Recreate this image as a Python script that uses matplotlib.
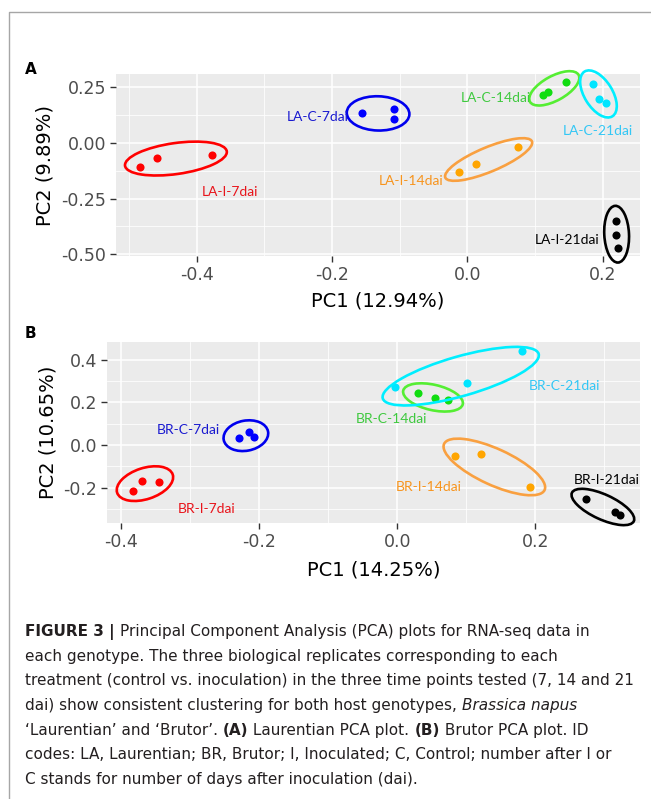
import numpy as np
import matplotlib
matplotlib.use('Agg')
import matplotlib.pyplot as plt
from matplotlib.patches import Ellipse
from matplotlib.transforms import IdentityTransform
from matplotlib.lines import Line2D

# ---- data ----
la_groups = ['LA-I-7dai', 'LA-C-7dai', 'LA-C-14dai', 'LA-C-21dai', 'LA-I-14dai', 'LA-I-21dai']
la_pc1 = [[-0.483, -0.459, -0.377], [-0.156, -0.108, -0.108], [0.112, 0.119, 0.145],
          [0.186, 0.195, 0.205], [-0.012, 0.013, 0.075], [0.220, 0.220, 0.222]]
la_pc2 = [[-0.109, -0.067, -0.054], [0.134, 0.153, 0.107], [0.216, 0.230, 0.272],
          [0.265, 0.196, 0.181], [-0.131, -0.097, -0.020], [-0.350, -0.414, -0.470]]

br_groups = ['BR-I-7dai', 'BR-C-7dai', 'BR-C-14dai', 'BR-C-21dai', 'BR-I-14dai', 'BR-I-21dai']
br_pc1 = [[-0.384, -0.370, -0.345], [-0.230, -0.215, -0.208], [0.030, 0.054, 0.074],
          [-0.003, 0.101, 0.181], [0.084, 0.122, 0.192], [0.273, 0.316, 0.323]]
br_pc2 = [[-0.218, -0.168, -0.174], [0.031, 0.061, 0.036], [0.242, 0.218, 0.210],
          [0.270, 0.293, 0.443], [-0.050, -0.044, -0.195], [-0.254, -0.315, -0.330]]

xtick_vals = [-0.4, -0.2, 0.0, 0.2]
xtick_labels = ['-0.4', '-0.2', '0.0', '0.2']
la_ytick_vals = [0.25, 0.0, -0.25, -0.5]
la_ytick_labels = ['0.25', '0.00', '-0.25', '-0.50']
br_ytick_vals = [0.4, 0.2, 0.0, -0.2]
br_ytick_labels = ['0.4', '0.2', '0.0', '-0.2']

# ---- styles ----
point_cols = ['#ff0000', '#0000ff', '#11dd11', '#00e5ff', '#ffa500', '#000000']
ring_cols = ['#ff0000', '#0000ee', '#55ee33', '#00eeff', '#f9a040', '#000000']
text_cols = ['#e8141b', '#1a1ad0', '#3fc93f', '#33c7f5', '#f7941d', '#000000']

# label placement: (ha, dx px, dy px) from group centre
la_lab = [('left', 32, -32), ('right', -35, -3), ('right', -21, -8),
          ('center', -2, -36), ('right', -41, -20), ('right', -17, -6)]
br_lab = [('left', 33, -24), ('right', -27, 6), ('center', -42, -22),
          ('left', 67, -13), ('right', -27, -21), ('center', 0, 29)]

W, H = 651, 799
fig = plt.figure(figsize=(W / 100, H / 100), dpi=100)
fig.patch.set_facecolor('white')


def px_axes(l, t, r, b):
    return fig.add_axes([l / W, 1 - b / H, (r - l) / W, (b - t) / H])


def panel(ax, pc1, pc2, names, labs, xlim, ylim, yvals, ylabels, xminor, yminor,
          xlab, ylab, xlab_y, ylab_x):
    ax.set_facecolor('#ebebeb')
    for s in ax.spines.values():
        s.set_visible(False)
    ax.set_xlim(*xlim)
    ax.set_ylim(*ylim)
    ax.set_xticks(xtick_vals)
    ax.set_xticklabels(xtick_labels)
    ax.set_yticks(yvals)
    ax.set_yticklabels(ylabels)
    ax.set_xticks(xminor, minor=True)
    ax.set_yticks(yminor, minor=True)
    ax.tick_params(which='major', length=4, width=1.0, color='#333333',
                   labelcolor='#4d4d4d', labelsize=12.5, pad=3)
    ax.tick_params(which='minor', length=0)
    ax.grid(which='major', color='white', lw=1.1)
    ax.grid(which='minor', color='white', lw=0.55)
    ax.set_axisbelow(True)
    ax.set_xlabel(xlab, fontsize=14, color='black')
    ax.set_ylabel(ylab, fontsize=14, color='black')
    ax.xaxis.set_label_coords(0.5, xlab_y)
    ax.xaxis.label.set_va('center')
    ax.yaxis.set_label_coords(ylab_x, 0.5)
    ax.yaxis.label.set_va('center')

    for i, name in enumerate(names):
        ax.scatter(pc1[i], pc2[i], s=34, color=point_cols[i], linewidths=0, zorder=3)
        # ring around replicates, worked out in pixel space
        pts = ax.transData.transform(np.column_stack([pc1[i], pc2[i]]))
        c = pts.mean(axis=0)
        d = pts - c
        vals, vecs = np.linalg.eigh(d.T @ d)
        v = vecs[:, np.argmax(vals)]
        p = np.array([-v[1], v[0]])
        u = d @ v
        w = d @ p
        ctr = c + v * (u.max() + u.min()) / 2 + p * (w.max() + w.min()) / 2
        a = (u.max() - u.min()) / 2 + 15
        b = (w.max() - w.min()) / 2 + 12
        ang = np.degrees(np.arctan2(v[1], v[0]))
        ax.add_patch(Ellipse(ctr, 2 * a, 2 * b, angle=ang, transform=IdentityTransform(),
                             fill=False, ec=ring_cols[i], lw=1.9, zorder=4, clip_on=False))
        ha, dx, dy = labs[i]
        ax.annotate(name, xy=(np.mean(pc1[i]), np.mean(pc2[i])), xytext=(dx, dy),
                    textcoords='offset pixels', ha=ha, va='center', color=text_cols[i],
                    fontfamily='Lato', fontsize=10, zorder=5)


axA = px_axes(116, 74, 640, 256)
panel(axA, la_pc1, la_pc2, la_groups, la_lab, (-0.519, 0.255), (-0.508, 0.309),
      la_ytick_vals, la_ytick_labels, [-0.5, -0.3, -0.1, 0.1], [0.125, -0.125, -0.375],
      'PC1 (12.94%)', 'PC2 (9.89%)', -0.247, -0.135)

axB = px_axes(107, 342, 640, 523)
panel(axB, br_pc1, br_pc2, br_groups, br_lab, (-0.421, 0.352), (-0.366, 0.483),
      br_ytick_vals, br_ytick_labels, [-0.3, -0.1, 0.1, 0.3], [0.3, 0.1, -0.1, -0.3],
      'PC1 (14.25%)', 'PC2 (10.65%)', -0.26, -0.111)

fig.text(25 / W, 1 - 69 / H, 'A', fontsize=11, weight='bold', va='center')
fig.text(25 / W, 1 - 334 / H, 'B', fontsize=11, weight='bold', va='center')

# thin frame round the figure (left and top only)
fig.add_artist(Line2D([9 / W, 9 / W, 1.0], [0.0, 1 - 11.5 / H, 1 - 11.5 / H],
                      transform=fig.transFigure, color='#a6a6a6', lw=1.0))

# ---- caption, drawn piece by piece for bold / italic runs ----
caption = [
    [('FIGURE 3 | ', 'bold', 'normal'),
     ('Principal Component Analysis (PCA) plots for RNA-seq data in', 'normal', 'normal')],
    [('each genotype. The three biological replicates corresponding to each', 'normal', 'normal')],
    [('treatment (control vs. inoculation) in the three time points tested (7, 14 and 21', 'normal', 'normal')],
    [('dai) show consistent clustering for both host genotypes, ', 'normal', 'normal'),
     ('Brassica napus', 'normal', 'italic')],
    [('\u2018Laurentian\u2019 and \u2018Brutor\u2019. ', 'normal', 'normal'), ('(A)', 'bold', 'normal'),
     (' Laurentian PCA plot. ', 'normal', 'normal'), ('(B)', 'bold', 'normal'),
     (' Brutor PCA plot. ID', 'normal', 'normal')],
    [('codes: LA, Laurentian; BR, Brutor; I, Inoculated; C, Control; number after I or', 'normal', 'normal')],
    [('C stands for number of days after inoculation (dai).', 'normal', 'normal')],
]

renderer = fig.canvas.get_renderer()
cap_size = 11.0
cap_col = '#231f20'


def text_w(s, weight, style):
    t = fig.text(0, 0, s + '|', fontsize=cap_size, weight=weight, style=style)
    bar = fig.text(0, 0, '|', fontsize=cap_size, weight=weight, style=style)
    w = t.get_window_extent(renderer).width - bar.get_window_extent(renderer).width
    t.remove()
    bar.remove()
    return w


for k, line in enumerate(caption):
    x = 25.0
    y = 636 + k * 24.67
    for s, weight, style in line:
        fig.text(x / W, 1 - y / H, s, fontsize=cap_size, weight=weight, style=style,
                 color=cap_col, va='baseline', ha='left')
        x += text_w(s, weight, style)

fig.savefig('out.png', dpi=100)
